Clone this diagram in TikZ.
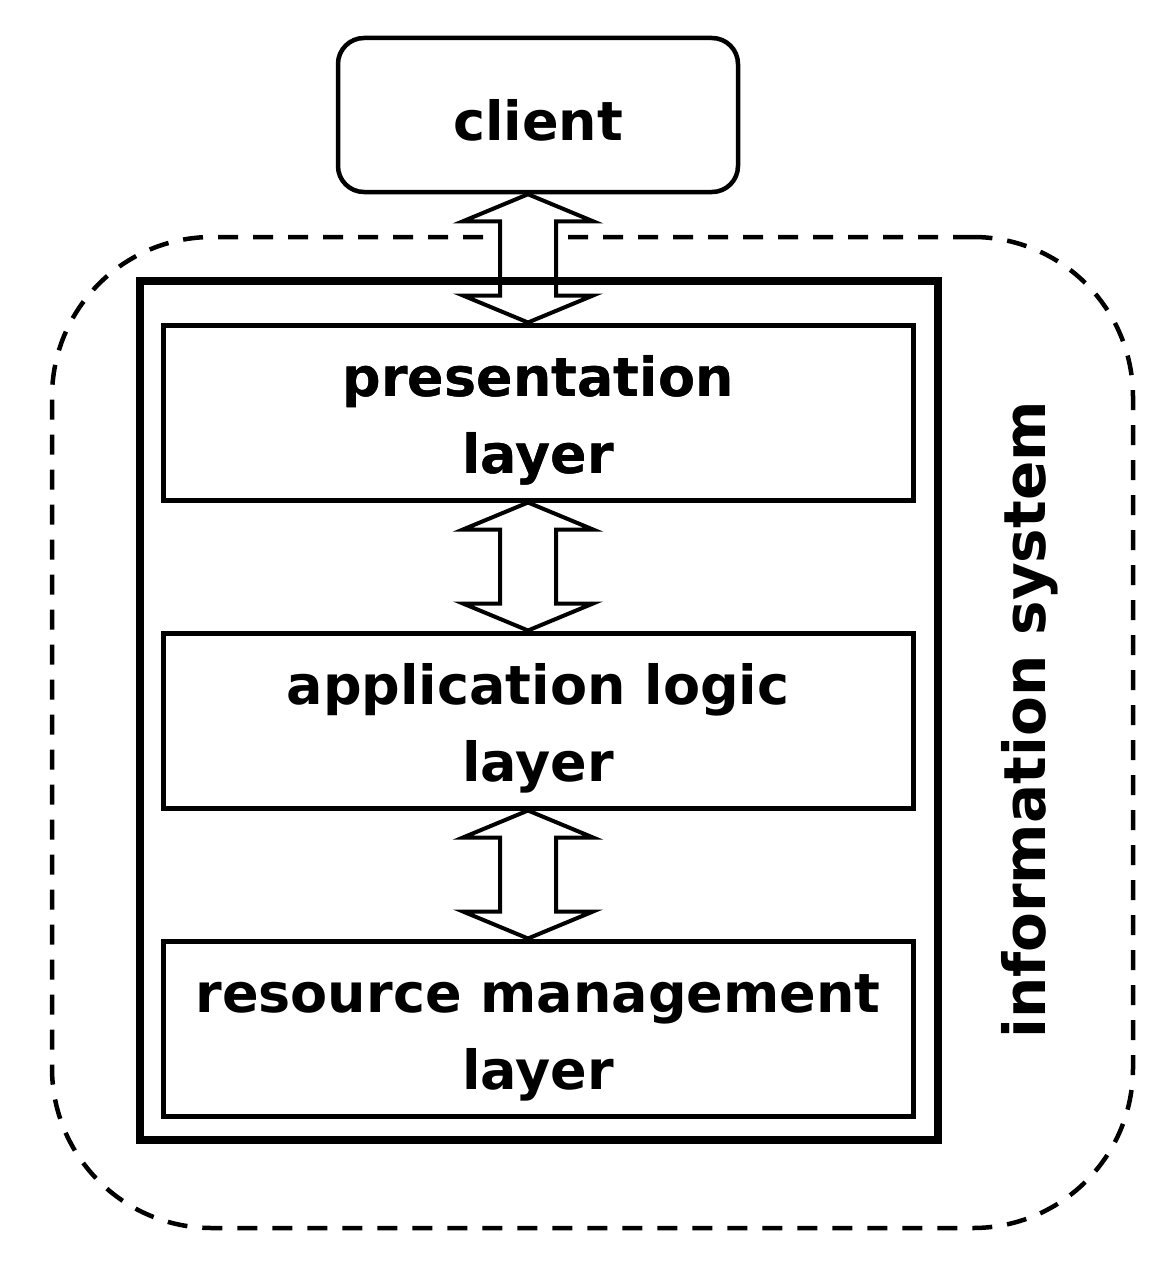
\documentclass[tikz,border=0pt]{standalone}
\usepackage{fontspec}
\setmainfont{DejaVu Sans}
\usetikzlibrary{calc}
\newcommand{\upstrut}[1]{\rule{0pt}{#1}}
\begin{document}
\begin{tikzpicture}[x=1pt,y=-1pt,
  lbl/.style={font=\bfseries\fontsize{54}{77}\selectfont, align=center, text=black},
  layerbox/.style={draw, line width=5pt, minimum width=750pt, minimum height=175pt, inner sep=0pt, lbl},
  bigarrow/.style={draw, line width=4pt, fill=white, line join=miter}
]
\useasboundingbox (0,0) rectangle (1161,1263);
\fill[white] (0,0) rectangle (1161,1263);
% dashed information system boundary
\node[draw, dash pattern=on 20pt off 15pt, line width=4.5pt, rounded corners=160pt,
      minimum width=1081pt, minimum height=991pt, inner sep=0pt] (infosys) at (592.5,732.5) {};
\node[lbl, font=\bfseries\fontsize{58}{70}\selectfont, rotate=90] (islabel) at (1030,720) {information system};
% client
\node[draw, line width=4.5pt, rounded corners=26pt, minimum width=400pt, minimum height=154pt, inner sep=0pt, lbl] (client) at (538,115) {\upstrut{51pt}client};
% layer boxes
\node[layerbox] (pres) at (538,412.5) {\upstrut{56pt}presentation\\layer};
\node[layerbox] (app) at (538,720.5) {\upstrut{56pt}application logic\\layer};
\node[layerbox] (res) at (538,1028.5) {\upstrut{56pt}resource management\\layer};
% arrows
\coordinate (ax) at (528,0);
\newcommand{\dblarr}[2]{%
  \draw[bigarrow] (ax |- #1) -- ++(65,27) -- ++(-37,0) -- ($(ax |- #2)+(28,-27)$) -- ++(37,0) -- (ax |- #2)
    -- ++(-65,-27) -- ++(37,0) -- ($(ax |- #1)+(-28,27)$) -- ++(-37,0) -- cycle;}
\dblarr{client.south}{pres.north}
% thick system box drawn over the first arrow
\node[draw, line width=8pt, minimum width=798pt, minimum height=859pt, inner sep=0pt] (sysbox) at (539,710.5) {};
\node[layerbox] at (pres) {\upstrut{56pt}presentation\\layer};
\dblarr{pres.south}{app.north}
\dblarr{app.south}{res.north}
\end{tikzpicture}
\end{document}
